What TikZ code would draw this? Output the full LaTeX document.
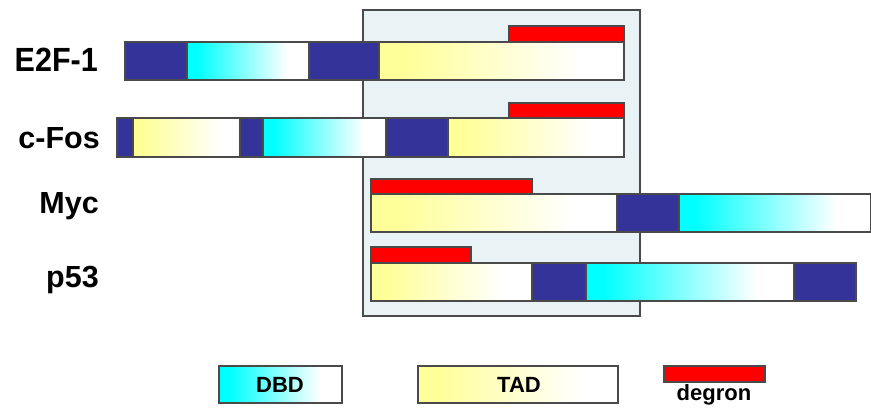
\documentclass[tikz,border=0pt]{standalone}
\usepackage{fontspec}
\setmainfont{Liberation Sans}
\definecolor{navy}{HTML}{333399}
\definecolor{edge}{HTML}{4A4A4A}
\definecolor{panel}{HTML}{E9F3F6}
\definecolor{dbdcol}{HTML}{00FFFF}
\definecolor{tadcol}{HTML}{FFFF99}
\definecolor{degcol}{HTML}{FF0000}
% colour fades that reach white before the right end of a domain
\pgfdeclarehorizontalshading{dbdfade}{100bp}{color(0bp)=(dbdcol); color(29bp)=(dbdcol); color(66bp)=(white); color(100bp)=(white)}
\pgfdeclarehorizontalshading{tadfade}{100bp}{color(0bp)=(tadcol); color(30bp)=(tadcol); color(66bp)=(white); color(100bp)=(white)}
\tikzset{
  navyseg/.style={fill=navy, draw=edge, line width=1.1pt},
  dbdseg/.style={shading=dbdfade, draw=edge, line width=1.1pt},
  tadseg/.style={shading=tadfade, draw=edge, line width=1.1pt},
  degseg/.style={fill=degcol, draw=edge, line width=1.1pt},
  protname/.style={anchor=east, font=\fontsize{30.5}{30.5}\selectfont\bfseries, inner sep=0pt},
  legtext/.style={font=\fontsize{22}{22}\selectfont\bfseries, inner sep=0pt},
}
% \domain{style}{x1}{x2}{y1}{y2}, in pixel-like units, y growing downwards
\newcommand{\domain}[5]{\path[#1] (#2,-#4) rectangle (#3,-#5);}
\begin{document}
\begin{tikzpicture}[x=1pt,y=1pt]
\useasboundingbox (0,0) rectangle (871,-409);

% shared region of the four proteins
\draw[fill=panel, draw=edge, line width=1.1pt] (363,-10) rectangle (640,-316);

% E2F-1
\node[protname, yscale=1.1] (e2f) at (98,-59.5) {E2F-1};
\domain{navyseg}{125}{187}{42}{80}
\domain{dbdseg}{187}{309}{42}{80}
\domain{navyseg}{309}{379}{42}{80}
\domain{tadseg}{379}{624}{42}{80}
\domain{degseg}{509}{624}{26}{42}

% c-Fos
\node[protname] (fos) at (100,-138) {c-Fos};
\domain{navyseg}{117}{133}{118}{157}
\domain{tadseg}{133}{240}{118}{157}
\domain{navyseg}{240}{263}{118}{157}
\domain{dbdseg}{263}{386}{118}{157}
\domain{navyseg}{386}{448}{118}{157}
\domain{tadseg}{448}{624}{118}{157}
\domain{degseg}{509}{624}{103}{118}

% Myc
\node[protname] (myc) at (99,-206.5) {Myc};
\domain{tadseg}{371}{617}{194}{232}
\domain{navyseg}{617}{679}{194}{232}
\domain{dbdseg}{679}{871}{194}{232}
\domain{degseg}{371}{532}{179}{194}

% p53
\node[protname] (p53) at (99,-280) {p53};
\domain{tadseg}{371}{532}{263}{301}
\domain{navyseg}{532}{586}{263}{301}
\domain{dbdseg}{586}{794}{263}{301}
\domain{navyseg}{794}{856}{263}{301}
\domain{degseg}{371}{471}{247}{263}

% legend
\domain{dbdseg}{219}{342}{366}{403}
\node[legtext] (dbd) at (280,-384.5) {DBD};
\domain{tadseg}{418}{618}{366}{403}
\node[legtext] (tad) at (519,-384.5) {TAD};
\domain{degseg}{664}{765}{366}{382}
\node[legtext, anchor=north] (deg) at (714,-384) {degron};
\end{tikzpicture}
\end{document}
